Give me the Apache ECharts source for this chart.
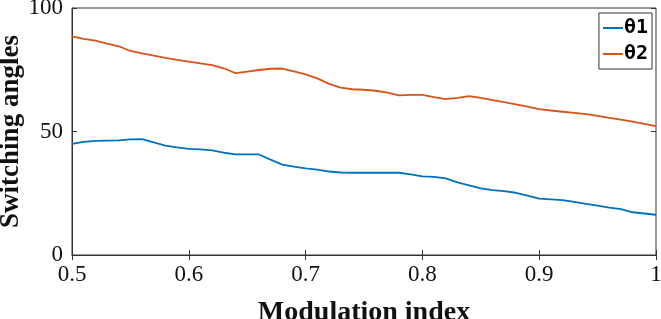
<!DOCTYPE html>
<html>
<head>
<meta charset="utf-8">
<style>
  html, body { margin: 0; padding: 0; background: #fff; }
  #chart { width: 661px; height: 319px; }
</style>
<script src="https://cdn.jsdelivr.net/npm/echarts@6/dist/echarts.min.js"></script>
</head>
<body>
<div id="chart"></div>
<script>
// 调制指数 (x), 每 0.01 一个点
const modIndex = [
  0.50, 0.51, 0.52, 0.53, 0.54, 0.55, 0.56, 0.57, 0.58, 0.59,
  0.60, 0.61, 0.62, 0.63, 0.64, 0.65, 0.66, 0.67, 0.68, 0.69,
  0.70, 0.71, 0.72, 0.73, 0.74, 0.75, 0.76, 0.77, 0.78, 0.79,
  0.80, 0.81, 0.82, 0.83, 0.84, 0.85, 0.86, 0.87, 0.88, 0.89,
  0.90, 0.91, 0.92, 0.93, 0.94, 0.95, 0.96, 0.97, 0.98, 0.99, 1.00
]
const theta1 = [
  45.0, 45.8, 46.2, 46.3, 46.4, 46.8, 46.9, 45.6, 44.3, 43.6,
  43.0, 42.8, 42.4, 41.4, 40.7, 40.7, 40.7, 38.6, 36.6, 35.8,
  35.1, 34.6, 33.8, 33.4, 33.3, 33.3, 33.3, 33.3, 33.3, 32.6,
  31.8, 31.6, 31.0, 29.4, 28.2, 27.0, 26.3, 25.9, 25.2, 24.0,
  22.8, 22.5, 22.2, 21.5, 20.7, 20.0, 19.2, 18.6, 17.3, 16.8, 16.3
]
const theta2 = [
  88.5, 87.5, 86.8, 85.6, 84.5, 82.6, 81.6, 80.7, 79.8, 79.0,
  78.3, 77.6, 76.9, 75.6, 73.6, 74.2, 74.9, 75.4, 75.5, 74.3,
  73.1, 71.5, 69.3, 67.8, 67.1, 66.9, 66.5, 65.7, 64.6, 64.8,
  64.8, 63.9, 63.1, 63.6, 64.3, 63.6, 62.7, 61.9, 61.0, 60.1,
  59.1, 58.5, 58.0, 57.5, 57.0, 56.3, 55.5, 54.8, 54.0, 53.1, 52.2
]
const xTicks = [0.5, 0.6, 0.7, 0.8, 0.9, 1]
const yTicks = [0, 50, 100]

const chart = echarts.init(document.getElementById('chart'))

const serif = '"Liberation Serif", "Times New Roman", serif'
const axisColor = '#333'

const option = {
  animation: false,
  grid: {
    left: 72, right: 5, top: 8, bottom: 64,
    outerBoundsMode: 'none',
    containLabel: false,
    show: true, borderColor: axisColor, borderWidth: 1
  },
  legend: {
    orient: 'vertical',
    right: 9, top: 13,
    backgroundColor: '#fff',
    borderColor: axisColor, borderWidth: 1, borderRadius: 0,
    padding: [5, 4, 5, 4],
    itemGap: 6,
    itemWidth: 20, itemHeight: 2,
    icon: 'rect',
    textStyle: { fontFamily: '"DejaVu Sans Mono", monospace', fontWeight: 'bold', fontSize: 20, color: '#000', padding: [0, 0, 0, -4] },
    data: ['θ1', 'θ2']
  },
  xAxis: [
    {
      type: 'value',
      min: xTicks[0], max: xTicks[xTicks.length - 1], interval: 0.1,
      name: 'Modulation index', nameLocation: 'middle', nameGap: 44,
      nameMoveOverlap: false,
      nameTextStyle: { fontFamily: serif, fontWeight: 'bold', fontSize: 28, color: '#111' },
      axisLine: { lineStyle: { color: axisColor } },
      axisTick: { inside: true, length: 5, lineStyle: { color: axisColor } },
      axisLabel: {
        fontFamily: serif, fontSize: 23, color: '#111', margin: 8,
        formatter: v => String(Math.round(v * 10) / 10)
      },
      splitLine: { show: false }
    },
    {
      type: 'value', position: 'top',
      min: xTicks[0], max: xTicks[xTicks.length - 1], interval: 0.1,
      axisLine: { show: false },
      axisTick: { inside: true, length: 5, lineStyle: { color: axisColor } },
      axisLabel: { show: false },
      splitLine: { show: false }
    }
  ],
  yAxis: [
    {
      type: 'value',
      min: yTicks[0], max: yTicks[yTicks.length - 1], interval: 50,
      name: 'Switching angles', nameLocation: 'middle', nameGap: 47,
      nameMoveOverlap: false,
      nameTextStyle: { fontFamily: serif, fontWeight: 'bold', fontSize: 27, color: '#111' },
      axisLine: { show: true, lineStyle: { color: axisColor } },
      axisTick: { show: true, inside: true, length: 5, lineStyle: { color: axisColor } },
      axisLabel: { fontFamily: serif, fontSize: 23, color: '#111', margin: 9 },
      splitLine: { show: false }
    },
    {
      type: 'value', position: 'right',
      min: yTicks[0], max: yTicks[yTicks.length - 1], interval: 50,
      axisLine: { show: false },
      axisTick: { show: true, inside: true, length: 5, lineStyle: { color: axisColor } },
      axisLabel: { show: false },
      splitLine: { show: false }
    }
  ],
  series: [
    {
      name: 'θ1', type: 'line', showSymbol: false,
      data: modIndex.map((m, i) => [m, theta1[i]]),
      lineStyle: { color: '#0072BD', width: 1.8 },
      itemStyle: { color: '#0072BD' }
    },
    {
      name: 'θ2', type: 'line', showSymbol: false,
      data: modIndex.map((m, i) => [m, theta2[i]]),
      lineStyle: { color: '#D95319', width: 1.8 },
      itemStyle: { color: '#D95319' }
    }
  ]
}

chart.setOption(option)
</script>
</body>
</html>
